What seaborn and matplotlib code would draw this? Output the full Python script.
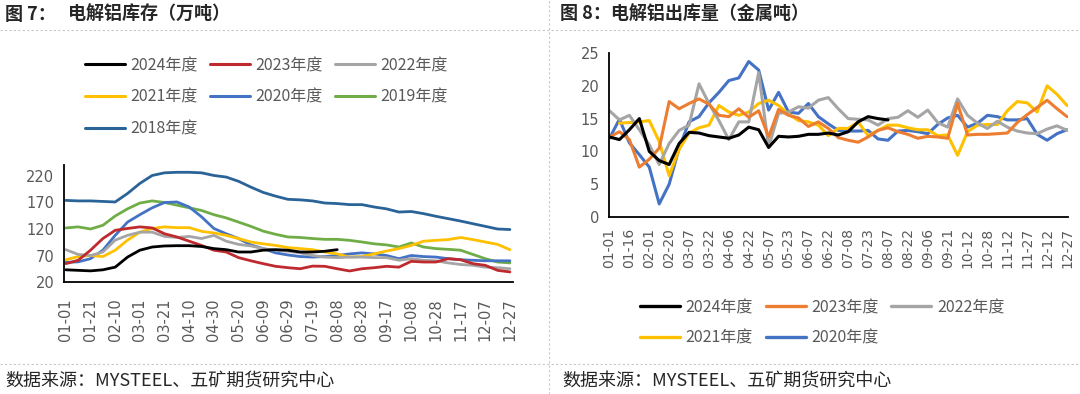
import numpy as np
import pandas as pd
import matplotlib
matplotlib.use("Agg")
import matplotlib.pyplot as plt
import seaborn as sns
from matplotlib.lines import Line2D

sns.set_style("white")
plt.rcParams['font.family'] = ['DejaVu Sans', 'Noto Sans CJK SC']
plt.rcParams['axes.unicode_minus'] = False

nan = np.nan

# ---------------- left chart: 电解铝库存（万吨） ----------------
inv_ticklabels = ["01-01", "01-21", "02-10", "03-01", "03-21", "04-10", "04-30", "05-20",
                  "06-09", "06-29", "07-19", "08-08", "08-28", "09-17", "10-08", "10-28",
                  "11-17", "12-07", "12-27"]
inv_2018 = [174, 173, 173, 172, 171, 187, 206, 221, 226, 227, 227, 226, 221, 218, 210, 199, 189, 182, 176,
            175, 173, 169, 168, 166, 166, 161.5, 158, 152, 153, 149, 144, 139.5, 135, 130, 125, 120, 119]
inv_2019 = [122, 124, 120, 127, 144.5, 158, 169, 173, 170, 165, 160, 155, 147, 141, 133, 125, 116, 110, 105,
            104, 102, 100.5, 100.5, 98.6, 95.5, 92, 90, 86, 93.6, 86, 83, 81.6, 80, 72, 64, 57.7, 56]
inv_2020 = [57, 58, 64, 80, 108, 133, 147, 160, 170, 171, 161.5, 143, 121, 111, 102, 90, 83, 75, 71,
            68, 67, 68, 70, 73, 75, 73, 70, 64, 70, 68, 67, 64, 62, 61, 60, 60, 60]
inv_2021 = [62, 68, 70, 68, 80, 99, 114, 121, 124, 122.5, 122.5, 115.6, 112.5, 108, 102, 95.5, 92, 89, 85,
            83, 81, 76.6, 73, 67, 68, 73, 78.5, 83, 89, 97, 98.6, 100, 104, 100, 95.5, 91, 81]
inv_2022 = [81, 72, 70, 76.6, 99, 108, 114, 114, 106, 104, 106, 102, 108, 97, 91, 88, 83, 80, 78,
            75, 70, 67, 66, 67, 67, 66, 66, 61, 64, 61, 60, 56, 53, 51.5, 48, 47, 45]
inv_2023 = [54.6, 61, 80, 102, 117.5, 121, 124, 122, 111, 105, 97, 89, 80, 76.6, 66, 60, 54.6, 49.6, 47,
            45, 50, 49.6, 45, 40.8, 45, 47, 49.6, 48, 59, 57.7, 57.7, 64, 62, 54.6, 51.5, 42, 39]
inv_2024 = [43, 42, 41, 43, 48, 67, 80, 86, 88, 88.5, 88.5, 87, 83, 81, 76.6, 76.6, 80, 81, 80,
            76.6, 76.6, 78, 81] + [nan] * 14

# ---------------- right chart: 电解铝出库量（金属吨） ----------------
out_ticklabels = ["01-01", "01-16", "02-01", "02-20", "03-07", "03-22", "04-06", "04-22", "05-07",
                  "05-23", "06-07", "06-22", "07-08", "07-23", "08-07", "08-22", "09-06", "09-21",
                  "10-12", "10-28", "11-12", "11-27", "12-12", "12-27"]
out_2024 = [12.2, 11.8, 13.3, 15.0, 10.0, 8.6, 8.0, 11.2, 12.9, 12.8, 12.4, 12.2, 12.0, 12.5, 13.7, 13.3,
            10.6, 12.3, 12.2, 12.3, 12.6, 12.6, 12.8, 12.5, 13.0, 14.5, 15.3, 15.0, 14.8] + [nan] * 18
out_2023 = [12.2, 13.0, 11.8, 7.6, 8.8, 10.5, 17.6, 16.5, 17.3, 18.0, 17.2, 15.5, 15.3, 16.5, 15.2, 16.2,
            12.2, 16.4, 15.5, 15.1, 13.8, 14.5, 13.5, 12.1, 11.7, 11.4, 12.2, 13.2, 13.6, 13.0, 12.6, 12.0,
            12.3, 12.2, 12.0, 17.3, 12.5, 12.6, 12.6, 12.7, 12.8, 14.4, 15.6, 16.7, 17.8, 16.5, 15.3]
out_2022 = [16.2, 14.8, 15.5, 13.3, 11.0, 8.0, 11.2, 13.2, 14.0, 20.3, 17.3, 14.7, 11.8, 14.5, 14.5, 22.0,
            10.7, 15.8, 16.0, 16.8, 16.6, 17.8, 18.2, 16.5, 15.0, 14.9, 14.8, 14.0, 15.0, 15.2, 16.2, 15.2,
            16.3, 14.4, 13.7, 18.0, 15.5, 14.3, 13.5, 14.6, 13.7, 13.1, 12.8, 12.7, 13.4, 13.9, 13.2]
out_2021 = [nan, 14.3, 14.4, 14.5, 14.7, 11.5, 6.3, 10.3, 12.8, 13.6, 14.0, 17.0, 16.0, 15.5, 16.0, 17.3,
            17.8, 17.0, 15.7, 14.7, 14.5, 14.0, 12.4, 13.5, 13.5, 14.5, 12.4, 13.2, 14.0, 14.0, 13.6, 13.3,
            13.3, 12.4, 12.5, 9.4, 13.0, 14.0, 14.1, 14.1, 16.2, 17.6, 17.4, 16.0, 20.0, 18.7, 17.0]
out_2020 = [12.0, 14.9, 11.3, 9.5, 7.6, 2.0, 5.0, 10.5, 14.5, 15.3, 17.4, 19.0, 20.8, 21.2, 23.7, 22.4,
            16.3, 19.0, 16.0, 15.8, 17.3, 15.3, 14.2, 13.2, 13.1, 13.1, 13.2, 11.9, 11.7, 13.1, 13.2, 13.0,
            12.7, 14.1, 15.1, 15.5, 13.7, 14.3, 15.5, 15.3, 14.8, 14.8, 15.0, 12.6, 11.7, 12.7, 13.3]

W, H = 1080, 394
fig = plt.figure(figsize=(W / 100, H / 100), dpi=100)
fx = lambda px: px / W
fy = lambda py: 1 - py / H

GRAY_TXT = '#595959'
CJK = ['Noto Sans CJK SC', 'DejaVu Sans']

# frame lines
sep = dict(color='#c8c8c8', lw=0.8, ls=(0, (2, 2)), transform=fig.transFigure)
fig.add_artist(Line2D([0, 1], [fy(29.5), fy(29.5)], **sep))
fig.add_artist(Line2D([0, 1], [fy(363.5), fy(363.5)], **sep))
fig.add_artist(Line2D([fx(549), fx(549)], [0, 1], **sep))

# titles
fig.text(fx(5), fy(14), "图 7：", fontsize=13, fontweight='bold', family=CJK, va='center')
fig.text(fx(68), fy(14), "电解铝库存（万吨）", fontsize=13, fontweight='bold', family=CJK, va='center')
fig.text(fx(560), fy(14), "图 8：电解铝出库量（金属吨）", fontsize=13, fontweight='bold', family=CJK, va='center')
fig.text(fx(5), fy(381), "数据来源：MYSTEEL、五矿期货研究中心", fontsize=13, family=CJK, va='center')
fig.text(fx(562), fy(381), "数据来源：MYSTEEL、五矿期货研究中心", fontsize=13, family=CJK, va='center')


def style_axes(ax):
    for s in ['top', 'right']:
        ax.spines[s].set_visible(False)
    for s in ['left', 'bottom']:
        ax.spines[s].set_color('black')
        ax.spines[s].set_linewidth(1.3)
    ax.tick_params(axis='x', length=0, pad=7, labelrotation=90, labelsize=10, labelcolor=GRAY_TXT)
    ax.tick_params(axis='y', length=4, width=1, color='black', direction='out', pad=3,
                   labelsize=10.5, labelcolor=GRAY_TXT)
    ax.grid(False)
    ax.set_xlabel('')
    ax.set_ylabel('')


# ---------------- left axes ----------------
ax1 = fig.add_axes([fx(64), fy(282), (513 - 64) / W, (282 - 165.4) / H])
inv_series = [("2018年度", inv_2018, '#2A6398'), ("2019年度", inv_2019, '#70AD47'),
              ("2020年度", inv_2020, '#4472C4'), ("2021年度", inv_2021, '#FFC000'),
              ("2022年度", inv_2022, '#A5A5A5'), ("2023年度", inv_2023, '#BE2A2E'),
              ("2024年度", inv_2024, '#000000')]
n1 = len(inv_2018)
h1 = {}
for name, vals, col in inv_series:
    df = pd.DataFrame({'x': np.arange(n1), 'y': vals}).dropna()
    sns.lineplot(data=df, x='x', y='y', ax=ax1, color=col, linewidth=2.0, legend=False)
    h1[name] = Line2D([], [], color=col, linewidth=2.2)
ax1.set_xlim(-0.15, n1 - 1 + 0.25)
ax1.set_ylim(20, 240)
ax1.set_yticks([20, 70, 120, 170, 220])
ax1.set_xticks(np.arange(0, n1, 2))
ax1.set_xticklabels(inv_ticklabels)
style_axes(ax1)
ax1.tick_params(axis='x', pad=12, labelsize=10.5)

order1 = ["2024年度", "2021年度", "2018年度", "2023年度", "2020年度", "2022年度", "2019年度"]
ax1.legend([h1[k] for k in order1], order1, ncol=3, loc='upper left',
           bbox_to_anchor=(fx(85), fy(57)), bbox_transform=fig.transFigure,
           frameon=False, handlelength=2.5, handletextpad=0.35,
           columnspacing=0.75, labelspacing=0.92, borderpad=0, borderaxespad=0,
           labelcolor=GRAY_TXT, prop={'family': CJK, 'size': 11.5})

# ---------------- right axes ----------------
ax2 = fig.add_axes([fx(609), fy(217), (1068 - 609) / W, (217 - 53) / H])
out_series = [("2020年度", out_2020, '#4472C4'), ("2021年度", out_2021, '#FFC000'),
              ("2022年度", out_2022, '#A5A5A5'), ("2023年度", out_2023, '#ED7D31'),
              ("2024年度", out_2024, '#000000')]
n2 = len(out_2020)
h2 = {}
for name, vals, col in out_series:
    df = pd.DataFrame({'x': np.arange(n2), 'y': vals}).dropna()
    sns.lineplot(data=df, x='x', y='y', ax=ax2, color=col, linewidth=2.2, legend=False)
    h2[name] = Line2D([], [], color=col, linewidth=2.4)
ax2.set_xlim(-0.05, n2 - 1 + 0.1)
ax2.set_ylim(0, 25)
ax2.set_yticks([0, 5, 10, 15, 20, 25])
ax2.set_xticks(np.arange(0, n2, 2))
ax2.set_xticklabels(out_ticklabels)
style_axes(ax2)
ax2.tick_params(axis='x', pad=8)

order2 = ["2024年度", "2021年度", "2023年度", "2020年度", "2022年度"]
ax2.legend([h2[k] for k in order2], order2, ncol=3, loc='upper left',
           bbox_to_anchor=(fx(640), fy(299)), bbox_transform=fig.transFigure,
           frameon=False, handlelength=2.5, handletextpad=0.35,
           columnspacing=0.8, labelspacing=0.85, borderpad=0, borderaxespad=0,
           labelcolor=GRAY_TXT, prop={'family': CJK, 'size': 11.5})

fig.savefig("out.png", dpi=100)
